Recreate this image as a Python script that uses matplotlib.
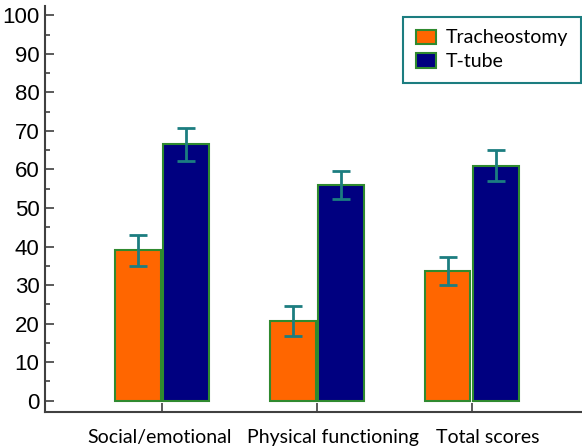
import numpy as np
import matplotlib.pyplot as plt
from matplotlib.ticker import MultipleLocator

groups = ['Social/emotional', 'Physical functioning', 'Total scores']
label_shift = [-0.015, 0.103, 0.103]
trach_mean = [39.0, 20.7, 33.6]
trach_err = [4.1, 3.9, 3.7]
ttube_mean = [66.5, 56.0, 61.0]
ttube_err = [4.4, 3.6, 4.1]

x = np.arange(len(groups))
width = 0.295
edge = '#2f8a2f'
errcol = '#1c7d80'

fig = plt.figure(figsize=(5.82, 4.47), dpi=100)
ax = fig.add_axes([0.0773, 0.078, 0.9227, 0.909])

err_kw = dict(ecolor=errcol, elinewidth=2, capsize=6.5, capthick=2)
ax.bar(x - 0.157, trach_mean, width, yerr=trach_err, color='#ff6600',
       edgecolor=edge, linewidth=1.5, label='Tracheostomy', error_kw=err_kw)
ax.bar(x + 0.157, ttube_mean, width, yerr=ttube_err, color='#000080',
       edgecolor=edge, linewidth=1.5, label='T-tube', error_kw=err_kw)

ax.set_xlim(-0.755, 2.71)
ax.set_ylim(-3.0, 102.5)
ax.yaxis.set_major_locator(MultipleLocator(10))
ax.yaxis.set_minor_locator(MultipleLocator(5))
ax.set_xticks(x)
ax.set_xticklabels([])
# category names sit a little right of the ticks
for xi, name, dx in zip(x, groups, label_shift):
    ax.text(xi + dx, -0.042, name, transform=ax.get_xaxis_transform(),
            ha='center', va='top', fontsize=14, family='Lato')

for s in ['top', 'right']:
    ax.spines[s].set_visible(False)
for s in ['left', 'bottom']:
    ax.spines[s].set_color('#404040')
    ax.spines[s].set_linewidth(1.5)

ax.tick_params(axis='y', which='major', direction='in', length=6.5,
               width=1.2, color='#404040', labelsize=16, pad=4)
ax.tick_params(axis='y', which='minor', direction='in', length=3.6,
               width=1.2, color='#404040')
ax.tick_params(axis='x', direction='in', length=6.5, width=1.2,
               color='#404040')
for lab in ax.get_yticklabels():
    lab.set_family('Liberation Sans')

leg = ax.legend(loc='upper right', bbox_to_anchor=(0.998, 0.973),
                borderaxespad=0,
                prop={'family': 'Lato', 'size': 14},
                fancybox=False, framealpha=1, handlelength=1.05,
                handleheight=0.75, handletextpad=0.5, borderpad=0.65,
                labelspacing=0.35)
leg.get_frame().set_edgecolor(errcol)
leg.get_frame().set_linewidth(1.5)

fig.savefig('out.png', dpi=100)
